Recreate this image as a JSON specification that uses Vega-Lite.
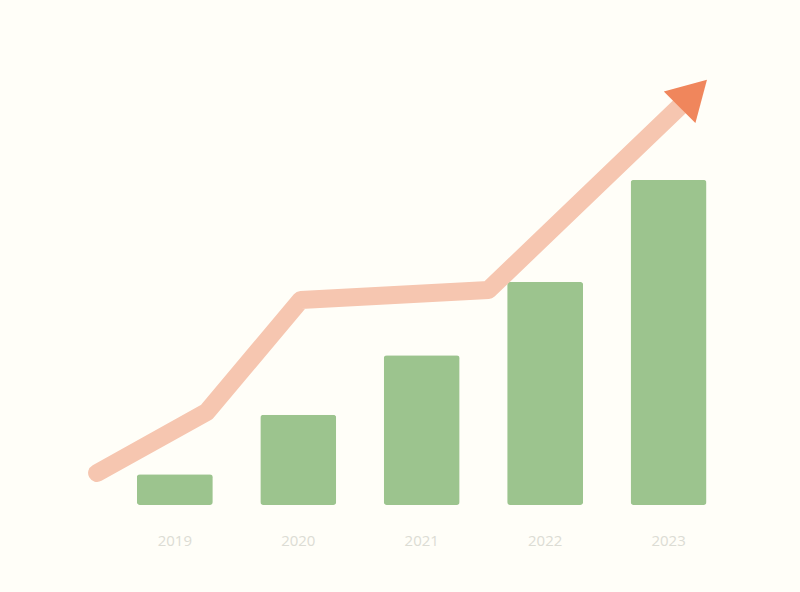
{
  "$schema": "https://vega.github.io/schema/vega-lite/v6.json",
  "width": 800,
  "height": 592,
  "padding": 0,
  "autosize": {"type": "none"},
  "background": "#fffef8",
  "config": {"view": {"stroke": null}},
  "datasets": {
    "bars": [
      {"pos": 1, "label": "2019", "value": 9},
      {"pos": 2, "label": "2020", "value": 26.5},
      {"pos": 3, "label": "2021", "value": 44},
      {"pos": 4, "label": "2022", "value": 65.6},
      {"pos": 5, "label": "2023", "value": 95.6}
    ],
    "trend": [
      {"t": 0.37, "value": 9.4, "step": 1},
      {"t": 1.26, "value": 27.4, "step": 2},
      {"t": 2.02, "value": 60.3, "step": 3},
      {"t": 3.54, "value": 63.2, "step": 4},
      {"t": 5.2, "value": 121, "step": 5}
    ],
    "tip": [
      {"t": 5.2, "value": 121}
    ]
  },
  "layer": [
    {
      "data": {"name": "bars"},
      "mark": {"type": "bar", "size": 76, "color": "#9cc48e", "cornerRadius": 3},
      "encoding": {
        "x": {"field": "pos", "type": "quantitative", "scale": {"domain": [-0.376, 6.024], "nice": false, "zero": false}, "axis": null},
        "y": {"field": "value", "type": "quantitative", "scale": {"domain": [-25.6, 148.5], "nice": false, "zero": false}, "axis": null}
      }
    },
    {
      "data": {"name": "bars"},
      "mark": {"type": "text", "color": "#dcdcd4", "fontSize": 15, "font": "Open Sans", "baseline": "middle"},
      "encoding": {
        "x": {"field": "pos", "type": "quantitative"},
        "y": {"datum": -10.5},
        "text": {"field": "label"}
      }
    },
    {
      "data": {"name": "trend"},
      "mark": {"type": "line", "color": "#f6c6b0", "strokeWidth": 18, "strokeCap": "round", "strokeJoin": "round"},
      "encoding": {
        "x": {"field": "t", "type": "quantitative"},
        "y": {"field": "value", "type": "quantitative"},
        "order": {"field": "step"}
      }
    },
    {
      "data": {"name": "tip"},
      "mark": {"type": "point", "shape": "triangle-up", "filled": true, "color": "#f0865c", "opacity": 1, "size": 2000, "angle": 45},
      "encoding": {
        "x": {"field": "t", "type": "quantitative"},
        "y": {"field": "value", "type": "quantitative"}
      }
    }
  ]
}
